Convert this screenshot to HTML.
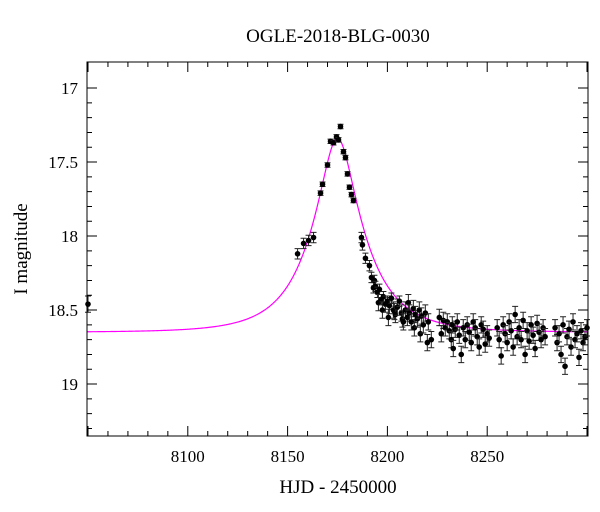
<!DOCTYPE html>
<html><head><meta charset="utf-8"><style>
body{margin:0;background:#fff;}
svg{display:block;font-family:"Liberation Serif",serif;}
</style></head><body>
<svg id="chart" width="600" height="512" xmlns="http://www.w3.org/2000/svg">
<rect width="600" height="512" fill="#fff"/>
<text x="338" y="42" font-size="19" text-anchor="middle">OGLE-2018-BLG-0030</text>
<text x="338" y="493" font-size="19" text-anchor="middle">HJD - 2450000</text>
<text transform="translate(27,249) rotate(-90)" font-size="19" text-anchor="middle">I magnitude</text>
<g id="plot"></g>
</svg>
<script>
const xTicks=[8100,8150,8200,8250];
const yTicks=[17,17.5,18,18.5,19];
const yTickLabels=["17","17.5","18","18.5","19"];
const obsTime=[8050,8155,8158,8160.5,8163,8166.5,8167.5,8170,8171.5,8173,8174.5,8175.5,8176.5,8178,8179,8180,8181,8182,8183,8187,8187.5,8189,8191,8192,8193,
8193.5,8194,8195,8195.5,8196,8197,8197.5,8198,8199,8200,8200.5,8201,8202,8203,8203.5,8204,8205,8206,8207,8207.5,8208,8209,8210,8210.5,8211,8212,8213,8213.5,8214,8215,8216,8216.5,8217,8218,8219,8220,8220.5,8222,
8226,8227,8228,8229,8230,8231,8232,8232.5,8233,8234,8235,8236,8237,8238,8239,8240,8241,8242,8243,8244,8245,8246,8247,8248,8249,8250,8251,
8255,8256,8257,8258,8259,8260,8261,8262,8263,8264,8265,8266,8267,8268,8269,8270,8271,8272,8273,8274,8275,8276,8277,8278,8279,
8284,8285,8286,8287,8288,8289,8290,8291,8292,8293,8294,8295,8296,8297,8298,8299,8300];
const obsMag=[18.46,18.12,18.05,18.03,18.01,17.71,17.65,17.52,17.36,17.37,17.33,17.35,17.26,17.43,17.47,17.58,17.67,17.72,17.76,18.01,18.06,18.15,18.20,18.28,18.35,
18.30,18.34,18.38,18.45,18.36,18.43,18.50,18.41,18.46,18.44,18.55,18.47,18.42,18.50,18.51,18.53,18.48,18.44,18.52,18.56,18.58,18.50,18.55,18.45,18.52,18.58,18.49,18.62,18.53,18.56,18.50,18.66,18.54,18.60,18.52,18.72,18.58,18.70,
18.55,18.66,18.57,18.62,18.58,18.64,18.70,18.60,18.76,18.63,18.58,18.67,18.80,18.62,18.70,18.60,18.65,18.72,18.58,18.62,18.68,18.75,18.60,18.63,18.73,18.66,18.69,
18.62,18.70,18.81,18.60,18.66,18.72,18.58,18.64,18.75,18.53,18.68,18.62,18.70,18.57,18.80,18.64,18.71,18.60,18.67,18.76,18.59,18.65,18.70,18.62,18.68,
18.62,18.72,18.66,18.80,18.60,18.88,18.68,18.63,18.75,18.58,18.70,18.66,18.82,18.64,18.72,18.68,18.62];
const obsErr=obsTime.map((t,i)=>obsMag[i]<18?0.015:(obsMag[i]<18.45?0.035:0.055));
const modelT0=8175, modelTE=26, modelU0=0.31, modelBase=18.65;

const L=87,R=588,T=62,B=436;
const xMin=8049.5,xMax=8300.5,yMin=16.824,yMax=19.351;
const X=v=>L+(v-xMin)/(xMax-xMin)*(R-L);
const Y=v=>T+(v-yMin)/(yMax-yMin)*(B-T);
const NS="http://www.w3.org/2000/svg";
const g=document.getElementById('plot');
function mk(tag,attrs,parent){const e=document.createElementNS(NS,tag);for(const k in attrs)e.setAttribute(k,attrs[k]);(parent||g).appendChild(e);return e;}

let d="";
for(let t=xMin;t<=xMax;t+=0.5){const tau=(t-modelT0)/modelTE;const u=Math.sqrt(tau*tau+modelU0*modelU0);const A=(u*u+2)/(u*Math.sqrt(u*u+4));const m=modelBase-2.5*Math.log10(A);d+=(d?"L":"M")+X(t).toFixed(2)+","+Y(m).toFixed(2);}
const curve=mk('path',{d:d,fill:'none',stroke:'#ff00ff','stroke-width':1.2});



const pts=mk('g',{});


obsTime.forEach((t,i)=>{
  const x=X(t),y=Y(obsMag[i]),y1=Y(obsMag[i]-obsErr[i]),y2=Y(obsMag[i]+obsErr[i]);
  const eb=mk('path',{d:`M${x},${y1}V${y2}M${x-3},${y1}H${x+3}M${x-3},${y2}H${x+3}`,stroke:'#222','stroke-width':1,fill:'none'},pts);
  
  
  const c=mk('circle',{cx:x,cy:y,r:2.8,fill:'#000'},pts);
  
  
});

const fr=mk('rect',{x:L,y:T,width:R-L,height:B-T,fill:'none',stroke:'#000','stroke-width':1});



let td="";
for(let v=8050;v<=8300;v+=10){const x=X(v);const maj=(v%50===0);const len=maj?10:5;td+=`M${x},${B}V${B-len}M${x},${T}V${T+len}`;}
for(let k=170;k<=193;k++){const v=k/10;const y=Y(v);const maj=(k%5===0);const len=maj?10:5;td+=`M${L},${y}H${L+len}M${R},${y}H${R-len}`;}
const tk=mk('path',{d:td,stroke:'#000','stroke-width':1,fill:'none'});



xTicks.forEach(v=>{const t=mk('text',{x:X(v),y:462,'font-size':17,'text-anchor':'middle'});t.textContent=String(v);

});
yTicks.forEach((v,i)=>{const t=mk('text',{x:78,y:Y(v)+6,'font-size':17,'text-anchor':'end'});t.textContent=yTickLabels[i];

});
</script>
</body></html>
